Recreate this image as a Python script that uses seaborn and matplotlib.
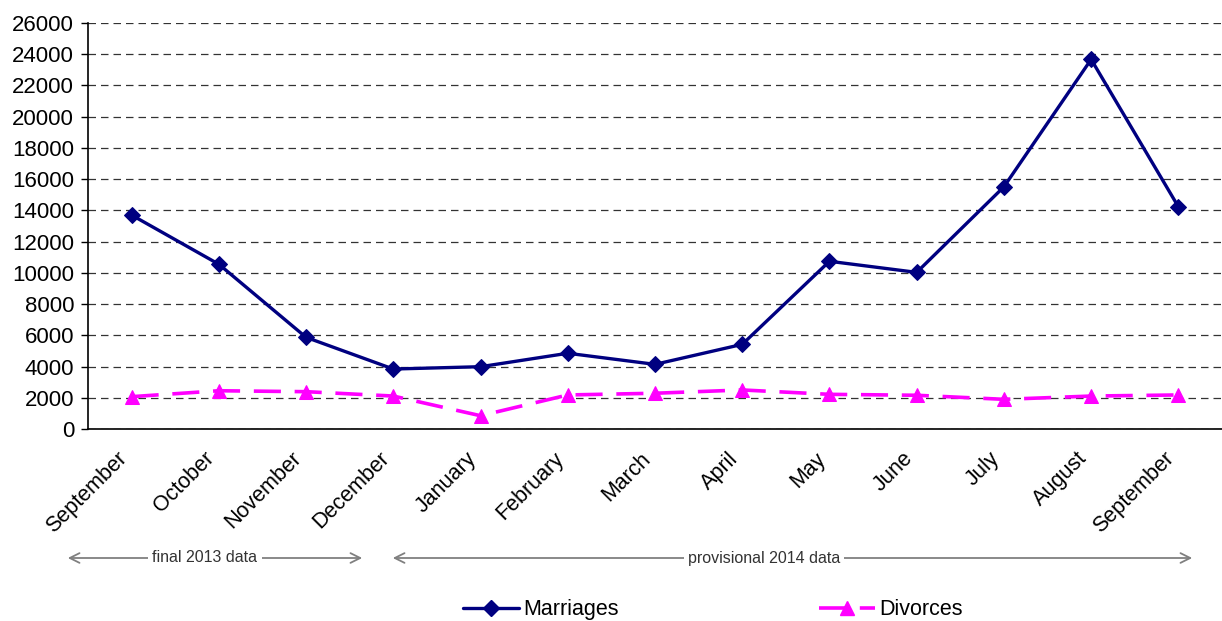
import numpy as np
import pandas as pd
import matplotlib
matplotlib.use("Agg")
import matplotlib.pyplot as plt
from matplotlib import font_manager
from matplotlib.lines import Line2D
import seaborn as sns

months = ["September", "October", "November", "December", "January", "February",
          "March", "April", "May", "June", "July", "August", "September"]
marriages = [13700, 10550, 5870, 3840, 3990, 4850, 4140, 5420, 10740, 10030, 15510, 23670, 14230]
divorces = [2070, 2450, 2390, 2110, 850, 2180, 2290, 2500, 2220, 2160, 1900, 2110, 2180]
y_ticks = list(range(0, 26001, 2000))

sns.set_theme(style="white")
plt.rcParams['font.family'] = ['Liberation Sans', 'DejaVu Sans']
plt.rcParams['text.color'] = 'black'
plt.rcParams['xtick.color'] = 'black'
plt.rcParams['ytick.color'] = 'black'
names = {f.name for f in font_manager.fontManager.ttflist}
narrow = 'Liberation Sans Narrow' if 'Liberation Sans Narrow' in names else 'Liberation Sans'

df = pd.DataFrame({"pos": np.arange(len(months)), "Marriages": marriages, "Divorces": divorces})

fig = plt.figure(figsize=(12.22, 6.21), dpi=100)
ax = fig.add_axes([88/1222, 1-429/621, (1222-88)/1222, (429-23)/621])

navy = "#000080"
pink = "#FF00FF"
div_dash = (0, (7.5, 3.8))
sns.lineplot(data=df, x="pos", y="Marriages", ax=ax, color=navy, lw=2.4,
             marker="D", markersize=8, markeredgecolor=navy, zorder=4)
sns.lineplot(data=df, x="pos", y="Divorces", ax=ax, color=pink, lw=2.6,
             marker="^", markersize=10.5, markeredgecolor=pink, zorder=3,
             dashes=False, linestyle=div_dash)

ax.set_xlim(-0.5, len(months) - 0.5)
ax.set_ylim(0, 26000)
ax.set_yticks(y_ticks)
ax.set_yticklabels([str(v) for v in y_ticks], fontsize=16, color="black")
ax.set_xticks(np.arange(len(months)))
ax.set_xticklabels(months, rotation=45, ha="right", va="bottom", rotation_mode="anchor",
                   fontsize=15.5, color="black")
ax.set_xticks(np.arange(-0.5, len(months)), minor=True)
ax.tick_params(axis="x", which="major", length=0, pad=24.5)
ax.tick_params(axis="x", which="minor", length=6, width=1, color="black", direction="out")
ax.tick_params(axis="y", length=5, width=1, color="black", direction="out", pad=5, left=True)
ax.set_xlabel("")
ax.set_ylabel("")
ax.yaxis.grid(True, color="#333333", linestyle=(0, (6, 4)), lw=0.9)
ax.set_axisbelow(True)
for s in ["top", "right"]:
    ax.spines[s].set_visible(False)
for s in ["left", "bottom"]:
    ax.spines[s].set_color("black")
    ax.spines[s].set_linewidth(1.2)
if ax.get_legend():
    ax.get_legend().remove()

# period annotations
yfig = 1 - 558/621
gray = "#808080"
for x0, x1, xt, label in [(65, 365, 205, "final 2013 data"), (390, 1195, 764, "provisional 2014 data")]:
    fig.patches.append(matplotlib.patches.FancyArrowPatch(
        (x0/1222, yfig), (x1/1222, yfig), transform=fig.transFigure,
        arrowstyle="<->,head_length=7,head_width=3.5", color=gray, lw=1.3, mutation_scale=1))
    fig.text(xt/1222, yfig, label, ha="center", va="center", fontsize=11.5,
             family=narrow, color="#333333",
             bbox=dict(facecolor="white", edgecolor="none", pad=3))

handles = [Line2D([], [], color=navy, lw=2.4, marker="D", markersize=8),
           Line2D([], [], color=pink, lw=2.6, marker="^", markersize=10.5, linestyle=div_dash)]
fig.legend(handles, ["Marriages", "Divorces"], loc="lower center", bbox_to_anchor=(0.583, -0.03),
           ncol=2, frameon=False, handlelength=2.6, handletextpad=0.2, columnspacing=9.3,
           prop=dict(family=narrow, size=15.5))

fig.savefig("out.png", dpi=100)
